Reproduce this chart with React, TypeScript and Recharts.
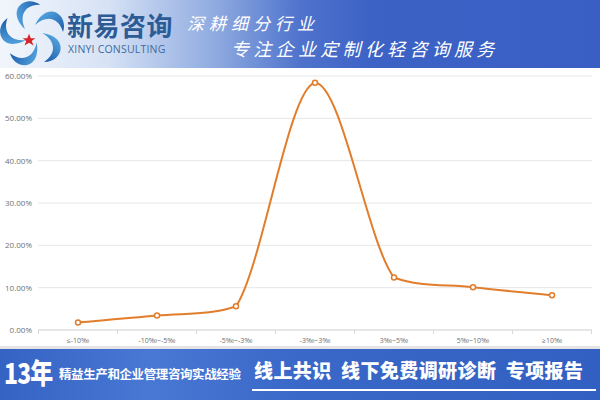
import React from 'react'
import { LineChart, Line, XAxis, YAxis, CartesianGrid } from 'recharts'

const categories = ['≤-10‰', '-10‰~-5‰', '-5‰~-3‰', '-3‰~3‰', '3‰~5‰', '5‰~10‰', '≥10‰']
const shares = [1.8, 3.4, 5.6, 58.4, 12.4, 10.1, 8.2]
const yTicks = [0, 10, 20, 30, 40, 50, 60]

const data = categories.map((name, i) => ({ name, value: shares[i] }))

const ORANGE = '#e27d2c'
const CJK = '"Noto Sans CJK SC", "Noto Sans", sans-serif'
const EDGE_PAD = 40

const clamp = (v: number, a: number, b: number) => Math.min(Math.max(v, Math.min(a, b)), Math.max(a, b))

// smoothed line like the spreadsheet one, control points kept inside each segment's y range
const smoothCurve = (ctx: any) => {
  let pts: number[][] = []
  return {
    areaStart() {},
    areaEnd() {},
    lineStart() {
      pts = []
    },
    point(x: number, y: number) {
      pts.push([+x, +y])
    },
    lineEnd() {
      if (!pts.length) return
      ctx.moveTo(pts[0][0], pts[0][1])
      for (let i = 0; i < pts.length - 1; i++) {
        const p0 = pts[i - 1] || pts[i]
        const p1 = pts[i]
        const p2 = pts[i + 1]
        const p3 = pts[i + 2] || p2
        ctx.bezierCurveTo(
          p1[0] + (p2[0] - p0[0]) / 6,
          clamp(p1[1] + (p2[1] - p0[1]) / 6, p1[1], p2[1]),
          p2[0] - (p3[0] - p1[0]) / 6,
          clamp(p2[1] - (p3[1] - p1[1]) / 6, p1[1], p2[1]),
          p2[0],
          p2[1]
        )
      }
    },
  }
}

const XTick = (props: any) => {
  const { x, y, payload, index, width, visibleTicksCount } = props
  const step = width && visibleTicksCount > 1 ? (width - EDGE_PAD * 2) / (visibleTicksCount - 1) : 79
  const axisY = y - 8
  return (
    <g>
      {index === 0 && <line x1={x - step / 2} x2={x - step / 2} y1={axisY} y2={axisY + 4} stroke="#d9d9d9" />}
      <line x1={x + step / 2} x2={x + step / 2} y1={axisY} y2={axisY + 4} stroke="#d9d9d9" />
      <text x={x} y={y} dy="0.71em" textAnchor="middle" fontSize={7} fill="#707070" fontFamily="'Open Sans', sans-serif">
        {payload.value}
      </text>
    </g>
  )
}

const Logo = () => {
  const blades = [0, 72, 144, 216, 288]
  return (
    <svg width={68} height={68} style={{ position: 'absolute', left: 0, top: 0 }}>
      <defs>
        <linearGradient id="bl" x1="0" y1="0" x2="1" y2="1">
          <stop offset="0%" stopColor="#5fb2ea" />
          <stop offset="100%" stopColor="#1a5aa8" />
        </linearGradient>
      </defs>
      <g transform="translate(33,34)">
        {blades.map((a) => (
          <path
            key={a}
            transform={`rotate(${a})`}
            d="M2,-9 C 14,-34 36,-20 30,-2 C 26,-16 14,-20 2,-9 Z"
            fill="url(#bl)"
          />
        ))}
        <polygon
          transform="translate(-4,6) scale(0.9)"
          points="0,-7 2,-2 7,-2 3,1 5,6 0,3 -5,6 -3,1 -7,-2 -2,-2"
          fill="#d8232a"
        />
      </g>
    </svg>
  )
}

export default function App() {
  return (
    <div style={{ position: 'absolute', left: 0, top: 0, width: 600, height: 400, background: '#fff', overflow: 'hidden' }}>
      {/* top banner */}
      <div
        style={{
          position: 'absolute',
          left: 0,
          top: 0,
          width: 600,
          height: 68,
          background: 'linear-gradient(90deg, #f2f6fc 0%, #d6e2f5 18%, #8eaae0 36%, #4f73cc 50%, #3c62c6 62%, #3a5fc4 100%)',
        }}
      >
        <Logo />
        <div style={{ position: 'absolute', left: 67, top: 6, fontFamily: CJK, fontWeight: 700, fontSize: 26, color: '#2c5c96', letterSpacing: 0.5 }}>
          新易咨询
        </div>
        <div style={{ position: 'absolute', left: 68, top: 42, fontFamily: "'Open Sans', sans-serif", fontSize: 10.5, color: '#3d6a9c', letterSpacing: 0.2 }}>
          XINYI CONSULTING
        </div>
        <div style={{ position: 'absolute', left: 187, top: 10, fontFamily: CJK, fontSize: 17, color: '#fff', letterSpacing: 5, fontStyle: 'italic' }}>
          深耕细分行业
        </div>
        <div style={{ position: 'absolute', left: 231, top: 35, fontFamily: CJK, fontSize: 18, color: '#fff', letterSpacing: 4.3, fontStyle: 'italic' }}>
          专注企业定制化轻咨询服务
        </div>
      </div>

      {/* chart */}
      <div style={{ position: 'absolute', left: 0, top: 0 }}>
        <LineChart width={600} height={350} data={data} margin={{ top: 76, right: 8, left: 0, bottom: 0 }}>
          <CartesianGrid vertical={false} stroke="#e6e6e6" />
          <XAxis
            dataKey="name"
            height={20}
            padding={{ left: EDGE_PAD, right: EDGE_PAD }}
            axisLine={{ stroke: '#d9d9d9' }}
            tickLine={false}
            tickSize={6}
            tickMargin={2}
            interval={0}
            tick={<XTick />}
          />
          <YAxis
            width={38}
            domain={[0, 60]}
            ticks={yTicks}
            axisLine={false}
            tickLine={false}
            tickSize={0}
            tickMargin={6}
            tick={{ fontSize: 8, fill: '#707070', fontFamily: "'Open Sans', sans-serif" }}
            tickFormatter={(v: number) => `${v.toFixed(2)}%`}
          />
          <Line
            type={smoothCurve as any}
            dataKey="value"
            stroke={ORANGE}
            strokeWidth={2}
            dot={{ r: 2.5, fill: '#fff', stroke: ORANGE, strokeWidth: 1.5 }}
            isAnimationActive={false}
          />
        </LineChart>
      </div>

      {/* bottom banner */}
      <div style={{ position: 'absolute', left: 0, top: 346, width: 600, height: 3, background: '#e4e4e4' }} />
      <div
        style={{
          position: 'absolute',
          left: 0,
          top: 349,
          width: 600,
          height: 51,
          background: 'linear-gradient(90deg, #3463c4 0%, #4877d4 25%, #3a68c8 50%, #3260c2 100%)',
        }}
      >
        <div
          style={{
            position: 'absolute',
            left: 4,
            top: 5,
            fontFamily: CJK,
            fontWeight: 900,
            fontSize: 28,
            lineHeight: '36px',
            color: '#fff',
            letterSpacing: -1,
            transform: 'scaleX(0.82)',
            transformOrigin: 'left center',
          }}
        >
          13年
        </div>
        <div style={{ position: 'absolute', left: 59, top: 15, fontFamily: CJK, fontWeight: 700, fontSize: 12.5, color: '#fff', letterSpacing: -0.4 }}>
          精益生产和企业管理咨询实战经验
        </div>
        <div style={{ position: 'absolute', left: 254, top: 7, fontFamily: CJK, fontWeight: 900, fontSize: 19, color: '#fff', whiteSpace: 'pre', letterSpacing: 0.4 }}>
          线上共识  线下免费调研诊断  专项报告
        </div>
        <div style={{ position: 'absolute', left: 252, top: 40, width: 344, height: 2, background: '#fff' }} />
      </div>
    </div>
  )
}
